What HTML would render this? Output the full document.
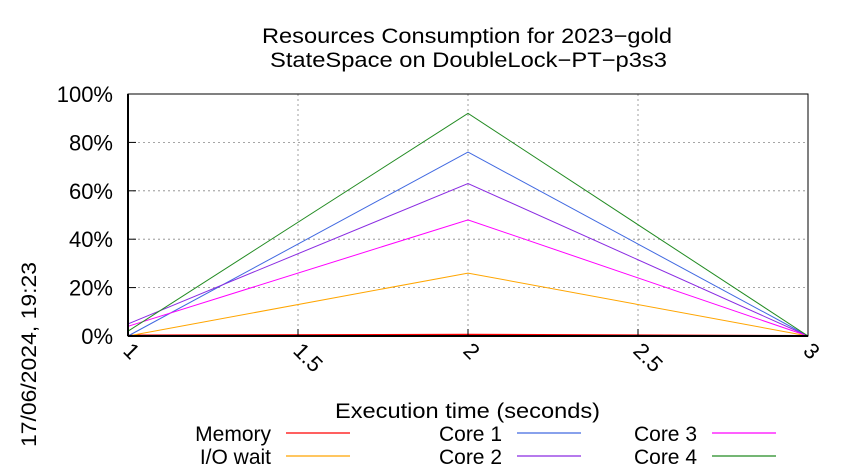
<!DOCTYPE html>
<html><head><meta charset="utf-8"><style>
body{margin:0;background:#fff}
svg{display:block;font-family:"Liberation Sans",sans-serif}
</style></head><body>
<svg id="c" width="850" height="475" viewBox="0 0 850 475">
<text x="262" y="43" font-size="21" textLength="410" lengthAdjust="spacingAndGlyphs">Resources Consumption for 2023−gold</text>
<text x="270" y="67" font-size="21" textLength="397" lengthAdjust="spacingAndGlyphs">StateSpace on DoubleLock−PT−p3s3</text>
<text transform="translate(36,447) rotate(-90)" font-size="21" textLength="185" lengthAdjust="spacingAndGlyphs">17/06/2024, 19:23</text>
<text x="335" y="418" font-size="21" textLength="265" lengthAdjust="spacingAndGlyphs">Execution time (seconds)</text>
<g id="grid"></g><g id="series"></g><g id="axes"></g><g id="legend"></g>
</svg>
<script>
const xTicks=[1,1.5,2,2.5,3];
const xTickLabels=["1","1.5","2","2.5","3"];
const yTicks=[0,20,40,60,80,100];
const yTickLabels=["0%","20%","40%","60%","80%","100%"];
const times=[1,2,3];
const memory=[0.2,0.5,0];
const ioWait=[0,26,0];
const core1=[0,76,0];
const core2=[5,63,0];
const core3=[4,48,0];
const core4=[2,92,0];
const seriesNames=["Memory","I/O wait","Core 1","Core 2","Core 3","Core 4"];
const seriesData=[memory,ioWait,core1,core2,core3,core4];
const colors=["#ff0000","#ffa500","#4169e1","#8a2be2","#ff00ff","#228b22"];
const X0=128,X1=808,Y0=336,Y1=94;
const sx=v=>X0+(v-1)/(3-1)*(X1-X0);
const sy=v=>Y0-v/100*(Y0-Y1);
const NS="http://www.w3.org/2000/svg";
function mk(tag,attrs,parent){const e=document.createElementNS(NS,tag);for(const k in attrs)e.setAttribute(k,attrs[k]);parent.appendChild(e);return e;}
const grid=document.getElementById('grid'),axes=document.getElementById('axes'),ser=document.getElementById('series'),leg=document.getElementById('legend');
yTicks.forEach((t,i)=>{
  const y=sy(t);
  if(t>0&&t<100){const g=mk('line',{x1:X0,x2:X1,y1:y,y2:y,stroke:'#888','stroke-width':0.8,'stroke-dasharray':'2,3'},grid);
  
  }
  const tk=mk('line',{x1:X0,x2:X0+8,y1:y,y2:y,stroke:'#000','stroke-width':1},axes);
  
  
  const tx=mk('text',{x:X0-15,y:y+8,'font-size':22,'text-anchor':'end'},axes);
  tx.textContent=yTickLabels[i];
  
  
});
xTicks.forEach((t,i)=>{
  const x=sx(t);
  if(t>1&&t<3){const g=mk('line',{x1:x,x2:x,y1:Y1,y2:Y0,stroke:'#888','stroke-width':0.8,'stroke-dasharray':'2,3'},grid);
  
  }
  const tk=mk('line',{x1:x,x2:x,y1:Y0,y2:Y0-7,stroke:'#000','stroke-width':1},axes);
  
  
  const tx=mk('text',{transform:`translate(${x-6},${Y0+16}) rotate(45)`,'font-size':22},axes);
  tx.textContent=xTickLabels[i];
  
  
});
const fr=mk('rect',{x:X0,y:Y1,width:X1-X0,height:Y0-Y1,fill:'none',stroke:'#000','stroke-width':1},axes);


const bx=mk('line',{x1:X0,x2:X1,y1:Y0,y2:Y0,stroke:'#000','stroke-width':2},axes);


const lx=mk('line',{x1:X0,x2:X0,y1:Y1,y2:Y0,stroke:'#000','stroke-width':2},axes);


seriesData.forEach((d,i)=>{
  const pts=d.map((v,j)=>sx(times[j])+','+sy(v)).join(' ');
  const p=mk('polyline',{points:pts,fill:'none',stroke:colors[i],'stroke-width':i==0?2:1},ser);
  
  
});
const legCols=[271,502,697],legRows=[441,464];
seriesNames.forEach((n,i)=>{
  const c=Math.floor(i/2),r=i%2;
  const tx=mk('text',{x:legCols[c],y:legRows[r],'font-size':21,'text-anchor':'end'},leg);
  tx.textContent=n;
  
  
  const ln=mk('line',{x1:legCols[c]+15,x2:legCols[c]+79,y1:legRows[r]-8,y2:legRows[r]-8,stroke:colors[i],'stroke-width':1.2},leg);
  
  
});
</script>
</body></html>
